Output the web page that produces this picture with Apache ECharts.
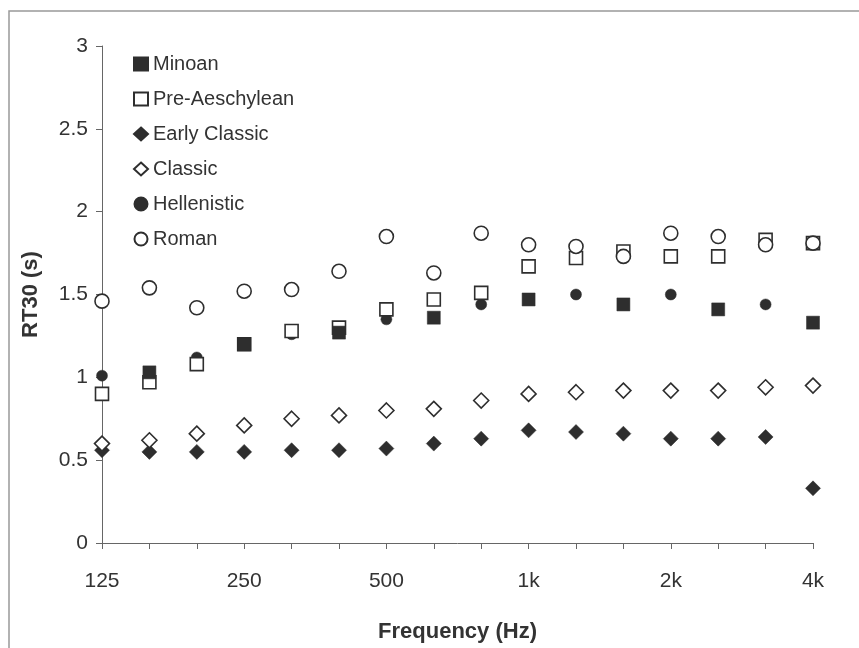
<!DOCTYPE html>
<html>
<head>
<meta charset="utf-8">
<script src="https://cdn.jsdelivr.net/npm/echarts@6/dist/echarts.min.js"></script>
<style>
html,body{margin:0;padding:0;background:#fff;}
#chart{width:859px;height:648px;}
</style>
</head>
<body>
<div id="chart"></div>
<script>
var categories = ['125','160','200','250','315','400','500','630','800','1k','1.25k','1.6k','2k','2.5k','3.15k','4k'];
var tickLabels = ['125','250','500','1k','2k','4k'];
var minoan = [null,1.03,null,1.20,null,1.27,null,1.36,null,1.47,null,1.44,null,1.41,null,1.33];
var preAeschylean = [0.90,0.97,1.08,1.20,1.28,1.30,1.41,1.47,1.51,1.67,1.72,1.76,1.73,1.73,1.83,1.81];
var earlyClassic = [0.56,0.55,0.55,0.55,0.56,0.56,0.57,0.60,0.63,0.68,0.67,0.66,0.63,0.63,0.64,0.33];
var classic = [0.60,0.62,0.66,0.71,0.75,0.77,0.80,0.81,0.86,0.90,0.91,0.92,0.92,0.92,0.94,0.95];
var hellenistic = [1.01,null,1.12,null,1.26,null,1.35,null,1.44,null,1.50,null,1.50,null,1.44,null];
var roman = [1.46,1.54,1.42,1.52,1.53,1.64,1.85,1.63,1.87,1.80,1.79,1.73,1.87,1.85,1.80,1.81];

var dark = '#2e2e2e';
var chart = echarts.init(document.getElementById('chart'));
function s(name, data, symbol, size, filled){
  return {
    name: name, type: 'scatter', data: data, symbol: symbol, symbolSize: size,
    itemStyle: filled ? {color: dark, borderColor: dark, borderWidth: 0.5, opacity: 1}
                      : {color: '#ffffff', borderColor: dark, borderWidth: 1.6, opacity: 1},
    emphasis: {disabled: true}
  };
}
chart.setOption({
  animation: false,
  backgroundColor: '#ffffff',
  textStyle: {fontFamily: 'Liberation Sans, Arial, sans-serif'},
  grid: {left: 102, right: 46, top: 46, bottom: 97},
  legend: {
    data: ['Minoan','Pre-Aeschylean','Early Classic','Classic','Hellenistic','Roman'],
    orient: 'vertical', left: 128, top: 49, itemGap: 15,
    itemWidth: 14, itemHeight: 13,
    textStyle: {fontSize: 20, color: '#333'},
    selectedMode: false
  },
  xAxis: {
    type: 'category', data: categories, boundaryGap: false,
    name: 'Frequency (Hz)', nameLocation: 'middle', nameGap: 78,
    nameTextStyle: {fontSize: 22, fontWeight: 'bold', color: '#333'},
    axisLine: {lineStyle: {color: '#666', width: 1}},
    axisTick: {show: true, interval: 0, length: 6, lineStyle: {color: '#666'}},
    axisLabel: {
      interval: 0, fontSize: 21, color: '#333', margin: 28,
      formatter: function(v){ return tickLabels.indexOf(v) >= 0 ? v : ''; }
    },
    splitLine: {show: false}
  },
  yAxis: {
    type: 'value', min: 0, max: 3, interval: 0.5,
    name: 'RT30 (s)', nameLocation: 'middle', nameGap: 60, nameRotate: 90,
    nameTextStyle: {fontSize: 22, fontWeight: 'bold', color: '#333'},
    axisLine: {show: true, lineStyle: {color: '#666', width: 1}},
    axisTick: {show: true, length: 6, lineStyle: {color: '#666'}},
    axisLabel: {fontSize: 21, color: '#333', margin: 14},
    splitLine: {show: false}
  },
  graphic: [{
    type: 'polyline', silent: true,
    shape: {points: [[9,648],[9,11],[859,11]]},
    style: {stroke: '#999', lineWidth: 1.5, fill: null}
  }],
  series: [
    s('Hellenistic', hellenistic, 'circle', 11, true),
    s('Pre-Aeschylean', preAeschylean, 'rect', 13, false),
    s('Minoan', minoan, 'rect', 13, true),
    s('Early Classic', earlyClassic, 'diamond', 15, true),
    s('Classic', classic, 'diamond', 15, false),
    s('Roman', roman, 'circle', 14, false)
  ]
});
</script>
</body>
</html>
